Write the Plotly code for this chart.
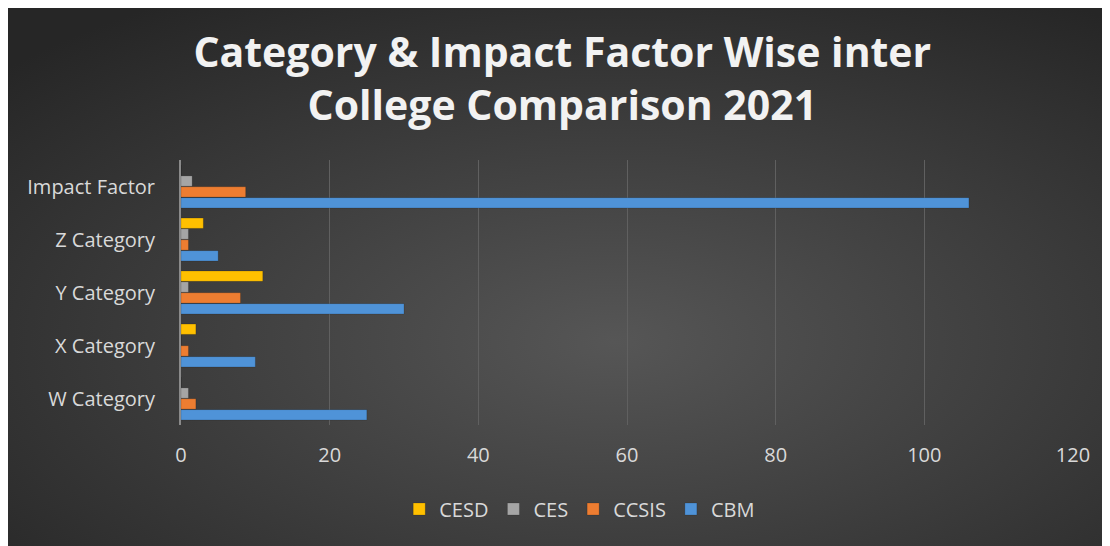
import base64
import plotly.graph_objects as go

# ======================================================================================================
# Data
# ======================================================================================================

categories = ["W Category", "X Category", "Y Category", "Z Category", "Impact Factor"]

cbm = [25, 10, 30, 5, 106]
ccsis = [2, 1, 8, 1, 8.7]
ces = [1, 0, 1, 1, 1.5]
cesd = [0, 2, 11, 3, 0]

series = [
    ("CBM", cbm, "#4f93d8"),
    ("CCSIS", ccsis, "#ed7d31"),
    ("CES", ces, "#a5a5a5"),
    ("CESD", cesd, "#ffc000"),
]

# ======================================================================================================
# Background (radial gradient like the Excel style)
# ======================================================================================================

svg = """<svg xmlns='http://www.w3.org/2000/svg' width='1102' height='538' viewBox='0 0 1102 538' preserveAspectRatio='none'>
<defs><radialGradient id='g' cx='55%' cy='62%' r='75%'>
<stop offset='0%' stop-color='#565656'/>
<stop offset='100%' stop-color='#262626'/>
</radialGradient></defs>
<rect width='1102' height='538' fill='url(#g)'/></svg>"""
bg_src = "data:image/svg+xml;base64," + base64.b64encode(svg.encode()).decode()

# ======================================================================================================
# Plot
# ======================================================================================================

# page body keeps its default 8px margin, so the figure is 8px smaller than the window
W, H = 1102, 538
L, R, T, B = 173, 37, 152, 121
pw, ph = W - L - R, H - T - B

fig = go.Figure()
for name, vals, color in series:
    fig.add_trace(go.Bar(
        y=categories, x=vals, name=name, orientation="h",
        marker=dict(color=color, line=dict(color="rgba(0,0,0,0.3)", width=0.5)),
    ))

fig.update_layout(
    width=W, height=H,
    margin=dict(l=L, r=R, t=T, b=B, autoexpand=False),
    paper_bgcolor="#333333",
    plot_bgcolor="rgba(0,0,0,0)",
    barmode="group",
    bargap=0.18,
    bargroupgap=0.05,
    font=dict(family="Open Sans, Lato, sans-serif", color="#d9d9d9", size=20),
    title=dict(
        text="Category & Impact Factor Wise inter<br>College Comparison 2021",
        x=0.503, xref="container", xanchor="center",
        y=0.890, yref="container", yanchor="middle",
        font=dict(size=41, color="#f2f2f2", family="Open Sans, sans-serif", weight=700),
    ),
    legend=dict(
        orientation="h", traceorder="reversed",
        x=0.447, xanchor="center", y=-0.317, yanchor="middle",
        bgcolor="rgba(0,0,0,0)",
        font=dict(size=20, color="#d9d9d9"),
        itemwidth=30,
    ),
    images=[dict(
        source=bg_src, xref="paper", yref="paper",
        x=-L / pw, y=1 + T / ph,
        sizex=W / pw, sizey=H / ph,
        xanchor="left", yanchor="top", sizing="stretch", layer="below",
    )],
)

fig.update_xaxes(
    range=[0, 120], dtick=20, showgrid=True, gridcolor="#606060", gridwidth=1,
    zeroline=False, showline=False, ticks="", ticklabelstandoff=16,
    tickfont=dict(size=20, color="#d9d9d9"),
)
fig.update_yaxes(
    showline=True, linecolor="#8a8a8a", linewidth=2, ticks="",
    ticklabelstandoff=20, tickfont=dict(size=20, color="#d9d9d9"),
)

fig.write_html("out.html")
